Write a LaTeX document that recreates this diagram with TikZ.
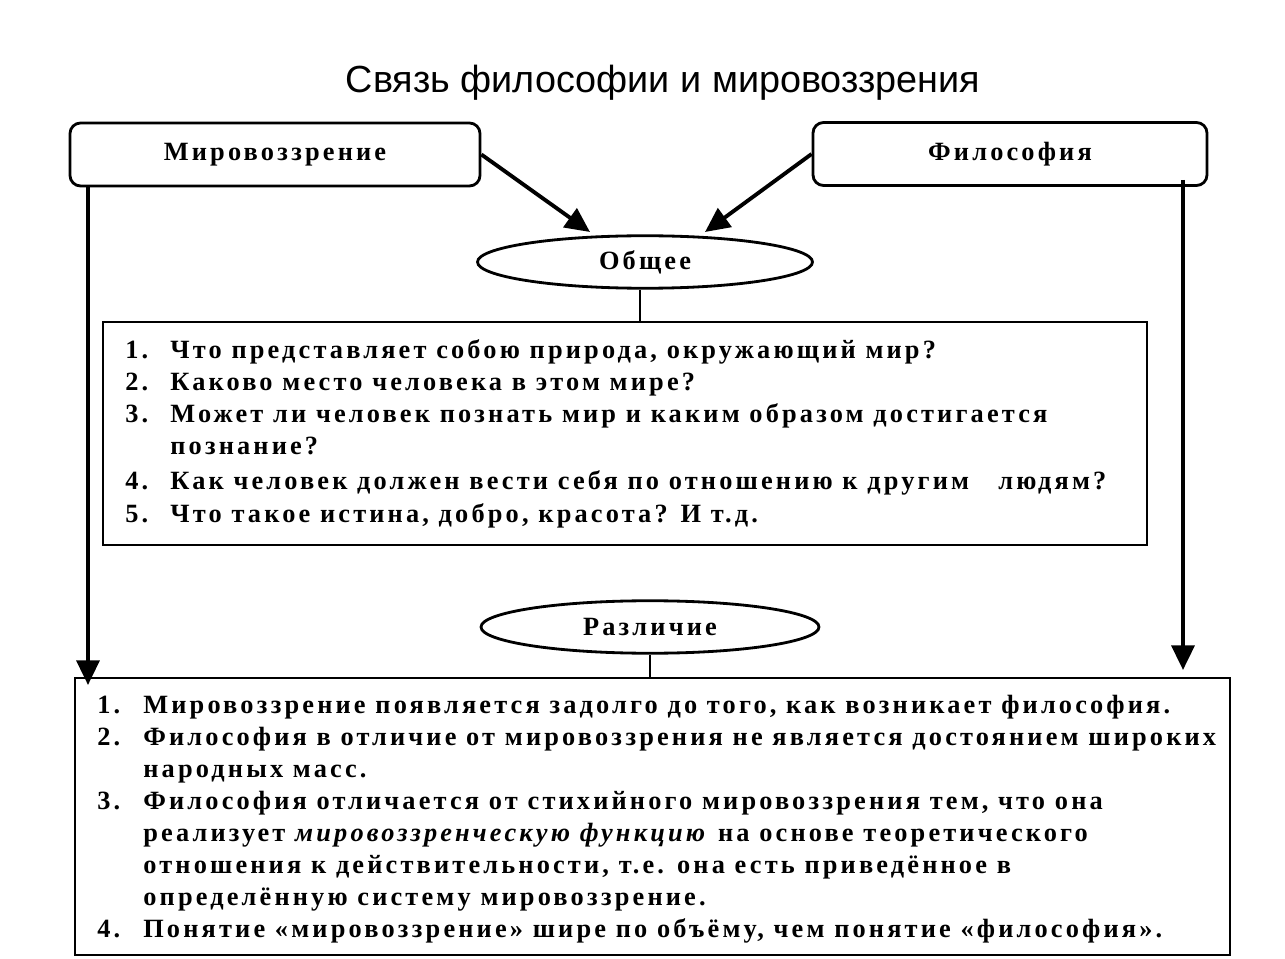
\documentclass[tikz,border=0pt]{standalone}
\usepackage{fontspec}
\setmainfont[LetterSpace=12]{Liberation Serif}
\newfontfamily\titlefont{Liberation Sans}
\usetikzlibrary{shapes.geometric,arrows.meta}
\begin{document}
\begin{tikzpicture}[x=0.02cm,y=-0.02cm,
  headbox/.style={draw,line width=1.6pt,rounded corners=6pt,minimum width=#1*0.02cm,minimum height=1.26cm,font=\fontsize{15}{18}\selectfont\bfseries},
  oval/.style={draw,ellipse,line width=1.6pt,minimum width=#1*0.02cm,minimum height=1.05cm,font=\fontsize{15}{18}\selectfont\bfseries},
  listbox/.style={draw,line width=1.6pt,anchor=north west},
  item/.style={anchor=base west,inner sep=0pt,font=\fontsize{15}{18}\selectfont\bfseries},
  arr/.style={line width=2.2pt,-{Triangle[length=14pt,width=13pt]}}]
\useasboundingbox (0,0) rectangle (1285,959);
% title
\node[font=\titlefont\fontsize{21.5}{24}\selectfont] (title) at (663,83) {Связь философии и мировоззрения};
% top boxes
\node[headbox=410] (world) at (275,154.5) {Мировоззрение};
\node[headbox=394] (phil) at (1010,154) {Философия};
% common
\node[oval=335] (common) at (645,262) {Общее};
\draw[arr] (world.east) -- (590,232);
\draw[arr] (phil.west) -- (705,232);
\draw[listbox] (103,322) rectangle (1147,545);
\coordinate (box1top) at (640,322);
\draw[line width=1.6pt] (640,290) -- (box1top);
\foreach \n/\y/\t in {1./359/{Что представляет собою природа, окружающий мир?},
  2./391/{Каково место человека в этом мире?},
  3./423/{Может ли человек познать мир и каким образом достигается},
  /455/{познание?},
  4./489/{Как человек должен вести себя по отношению к другим \ \ людям?},
  5./522/{Что такое истина, добро, красота? И т.д.}}{
  \node[item] at (125,\y) {\n};
  \node[item] at (170,\y) {\t};
}
% difference
\node[oval=338] (diff) at (650,627) {Различие};
\coordinate (box2top) at (650,678);
\draw[line width=1.6pt] (diff.south) -- (box2top);
\draw[listbox] (75,678) rectangle (1230,955);
\foreach \n/\y/\t in {1./713/{Мировоззрение появляется задолго до того, как возникает философия.},
  2./745/{Философия в отличие от мировоззрения не является достоянием широких},
  /777/{народных масс.},
  3./809/{Философия отличается от стихийного мировоззрения тем, что она},
  /841/{реализует \textit{мировоззренческую функцию} на основе теоретического},
  /873/{отношения к действительности, т.е. она есть приведённое в},
  /905/{определённую систему мировоззрение.},
  4./937/{Понятие «мировоззрение» шире по объёму, чем понятие «философия».}}{
  \node[item] at (97,\y) {\n};
  \node[item] at (143,\y) {\t};
}
% side arrows
\coordinate (leftend) at (88,685);
\coordinate (rightend) at (1183,670);
\draw[arr] (88,186) -- (leftend);
\draw[arr] (1183,180) -- (rightend);
\end{tikzpicture}
\end{document}
